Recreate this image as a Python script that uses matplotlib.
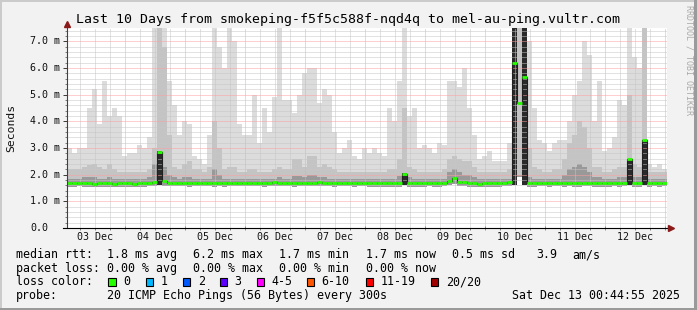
import matplotlib
matplotlib.use('Agg')
import matplotlib.pyplot as plt
import numpy as np
from matplotlib.patches import Rectangle
from matplotlib.transforms import blended_transform_factory

W, H = 697, 310
plt.rcParams['font.family'] = ['DejaVu Sans Mono']

# ---------------- data (values in ms; time in hours since 2025-12-03 00:00) ----------------
t_begin = 0.75      # Dec 3 00:45
t_end = 240.75      # Dec 13 00:45
bin_hours = 2.0

smoke_max = [3.0, 2.8, 3.0, 3.0, 4.5, 5.2, 3.9, 5.5, 4.2, 4.5,
             4.2, 2.7, 2.8, 2.8, 3.1, 3.0, 3.4, 7.5, 7.5, 7.5,
             5.5, 4.6, 3.5, 4.0, 3.9, 2.7, 2.6, 2.4, 3.5, 7.5,
             6.8, 6.0, 7.5, 7.0, 3.9, 3.5, 3.5, 5.0, 3.2, 4.5,
             3.6, 4.9, 7.5, 4.8, 4.8, 4.3, 5.0, 5.8, 6.0, 6.0,
             4.7, 5.2, 5.0, 3.6, 2.8, 3.0, 3.3, 2.7, 2.6, 3.0,
             2.8, 3.0, 2.8, 2.7, 4.5, 4.0, 5.5, 7.5, 4.2, 4.5,
             3.0, 3.1, 3.0, 2.8, 3.2, 3.1, 5.5, 5.5, 5.3, 6.0,
             4.5, 3.5, 2.6, 2.7, 2.9, 2.5, 2.5, 2.5, 3.2, 7.5,
             7.5, 7.5, 7.0, 4.5, 3.3, 3.2, 2.9, 3.2, 3.3, 3.3,
             4.0, 5.0, 5.5, 7.0, 6.5, 4.0, 5.5, 2.9, 3.0, 3.4,
             4.8, 4.6, 7.5, 6.4, 6.0, 7.5, 2.4, 2.3, 2.4, 2.2]

smoke_mid = [2.2, 2.2, 2.2, 2.3, 2.35, 2.4, 2.3, 2.2, 2.4, 2.2,
             2.1, 2.1, 2.1, 2.1, 2.1, 2.1, 2.2, 3.0, 7.5, 6.8,
             3.5, 2.3, 2.2, 2.4, 2.5, 2.2, 2.2, 2.1, 2.3, 4.0,
             3.0, 2.2, 2.3, 2.3, 2.1, 2.1, 2.2, 2.2, 2.1, 2.1,
             2.1, 2.2, 2.3, 2.2, 2.2, 2.6, 2.6, 2.3, 2.7, 2.7,
             2.3, 2.4, 2.3, 2.2, 2.1, 2.1, 2.1, 2.1, 2.1, 2.1,
             2.1, 2.1, 2.1, 2.1, 2.2, 2.2, 2.6, 4.5, 2.3, 2.2,
             2.1, 2.1, 2.1, 2.1, 2.1, 2.2, 2.6, 2.7, 2.6, 2.5,
             2.5, 2.3, 2.1, 2.1, 2.1, 2.1, 2.1, 2.1, 2.2, 7.5,
             7.5, 7.5, 3.0, 2.3, 2.2, 2.1, 2.1, 2.2, 2.2, 2.6,
             3.2, 3.5, 4.0, 3.8, 3.0, 2.3, 2.3, 2.1, 2.1, 2.2,
             2.3, 2.3, 5.0, 2.4, 2.3, 7.5, 2.1, 2.1, 2.1, 2.1]

smoke_dark = [1.85, 1.85, 1.85, 1.9, 1.9, 1.9, 1.85, 1.85, 1.9, 1.85,
              1.85, 1.85, 1.85, 1.85, 1.85, 1.85, 1.9, 2.4, 2.9, 2.3,
              2.0, 1.9, 1.85, 1.9, 1.9, 1.85, 1.85, 1.85, 1.85, 2.2,
              2.0, 1.85, 1.85, 1.85, 1.85, 1.85, 1.85, 1.85, 1.85, 1.85,
              1.85, 1.85, 1.9, 1.85, 1.85, 1.95, 1.95, 1.9, 2.0, 2.0,
              1.9, 1.9, 1.85, 1.85, 1.85, 1.85, 1.85, 1.85, 1.85, 1.85,
              1.85, 1.85, 1.85, 1.85, 1.85, 1.85, 1.95, 2.05, 1.9, 1.85,
              1.85, 1.85, 1.85, 1.85, 1.85, 1.85, 2.1, 2.2, 2.1, 2.0,
              2.0, 1.9, 1.85, 1.85, 1.85, 1.85, 1.85, 1.85, 1.85, 7.5,
              2.0, 7.5, 1.9, 1.85, 1.85, 1.85, 1.85, 1.85, 1.85, 2.0,
              2.2, 2.3, 2.4, 2.3, 2.1, 1.9, 1.9, 1.85, 1.85, 1.85,
              1.9, 1.9, 2.6, 1.9, 1.9, 3.3, 1.85, 1.85, 1.85, 1.85]

smoke_low = [1.55, 1.55, 1.56, 1.55, 1.54, 1.54, 1.55, 1.55, 1.55, 1.54,
             1.55, 1.55, 1.55, 1.54, 1.55, 1.55, 1.56, 1.57, 1.60, 1.58,
             1.56, 1.56, 1.56, 1.56, 1.55, 1.56, 1.56, 1.56, 1.56, 1.54,
             1.56, 1.55, 1.56, 1.56, 1.56, 1.56, 1.56, 1.56, 1.56, 1.55,
             1.56, 1.57, 1.56, 1.56, 1.56, 1.55, 1.56, 1.56, 1.56, 1.56,
             1.57, 1.56, 1.56, 1.55, 1.56, 1.56, 1.56, 1.55, 1.56, 1.56,
             1.55, 1.55, 1.55, 1.55, 1.55, 1.55, 1.55, 1.60, 1.55, 1.55,
             1.55, 1.55, 1.56, 1.55, 1.55, 1.56, 1.60, 1.65, 1.58, 1.59,
             1.55, 1.55, 1.54, 1.55, 1.55, 1.55, 1.55, 1.56, 1.57, 1.60,
             1.90, 1.60, 1.55, 1.55, 1.56, 1.56, 1.55, 1.56, 1.56, 1.55,
             1.56, 1.55, 1.55, 1.56, 1.56, 1.55, 1.55, 1.55, 1.55, 1.56,
             1.55, 1.56, 1.60, 1.55, 1.55, 1.62, 1.55, 1.56, 1.55, 1.56]

median_rtt = [1.68, 1.68, 1.70, 1.68, 1.68, 1.66, 1.68, 1.68, 1.68, 1.66,
              1.68, 1.68, 1.68, 1.66, 1.68, 1.68, 1.70, 1.72, 2.85, 1.78,
              1.70, 1.70, 1.70, 1.70, 1.68, 1.70, 1.70, 1.70, 1.70, 1.68,
              1.70, 1.68, 1.70, 1.70, 1.70, 1.70, 1.70, 1.70, 1.70, 1.68,
              1.70, 1.72, 1.70, 1.70, 1.70, 1.68, 1.70, 1.70, 1.70, 1.70,
              1.72, 1.70, 1.70, 1.68, 1.70, 1.70, 1.70, 1.68, 1.70, 1.70,
              1.68, 1.68, 1.68, 1.68, 1.68, 1.68, 1.68, 2.02, 1.68, 1.68,
              1.68, 1.68, 1.70, 1.68, 1.68, 1.70, 1.78, 1.88, 1.72, 1.74,
              1.68, 1.68, 1.66, 1.68, 1.68, 1.68, 1.68, 1.70, 1.72, 6.20,
              4.70, 5.65, 1.68, 1.68, 1.70, 1.70, 1.68, 1.70, 1.70, 1.68,
              1.70, 1.68, 1.68, 1.70, 1.70, 1.68, 1.68, 1.68, 1.68, 1.70,
              1.68, 1.70, 2.60, 1.68, 1.68, 3.30, 1.68, 1.70, 1.68, 1.70]

day_labels = ['03 Dec', '04 Dec', '05 Dec', '06 Dec', '07 Dec',
              '08 Dec', '09 Dec', '10 Dec', '11 Dec', '12 Dec']
y_tick_values = [0, 1, 2, 3, 4, 5, 6, 7]
y_tick_labels = ['0.0', '1.0 m', '2.0 m', '3.0 m', '4.0 m', '5.0 m', '6.0 m', '7.0 m']

title = 'Last 10 Days from smokeping-f5f5c588f-nqd4q to mel-au-ping.vultr.com'
rtt_row = ['median rtt:', '1.8 ms avg', '6.2 ms max', '1.7 ms min', '1.7 ms now',
           '0.5 ms sd', '3.9', 'am/s']
loss_row = ['packet loss:', '0.00 % avg', '0.00 % max', '0.00 % min', '0.00 % now']
loss_labels = ['0', '1', '2', '3', '4-5', '6-10', '11-19', '20/20']
loss_colors = ['#26ff00', '#00b8ff', '#0059ff', '#5e00ff', '#ff00ff', '#ff5500', '#ff0000', '#a10000']
probe_text = '20 ICMP Echo Pings (56 Bytes) every 300s'
stamp_text = 'Sat Dec 13 00:44:55 2025'

# ---------------- figure ----------------
fig = plt.figure(figsize=(W / 100, H / 100), dpi=100, facecolor='#f2f2f2')

def fx(px):
    return px / W

def fy(py):
    return 1 - py / H

# 3D-ish frame
fig.add_artist(Rectangle((0, 1 - 2 / H), 1, 2 / H, transform=fig.transFigure, color='#cbcbcb', lw=0))
fig.add_artist(Rectangle((0, 0), 2 / W, 1, transform=fig.transFigure, color='#cbcbcb', lw=0))
fig.add_artist(Rectangle((0, 0), 1, 2 / H, transform=fig.transFigure, color='#9a9a9a', lw=0))
fig.add_artist(Rectangle((1 - 3 / W, 0), 3 / W, 1, transform=fig.transFigure, color='#9a9a9a', lw=0))

ax = fig.add_axes([fx(67), 82 / H, 600 / W, 200 / H])
ax.set_facecolor('white')
ax.set_xlim(t_begin, t_end)
ax.set_ylim(0, 7.5)

n = len(smoke_max)
x = t_begin + bin_hours * np.arange(n)
lo = np.array(smoke_low)
mx = np.array(smoke_max)
md = np.array(smoke_mid)
dk = np.array(smoke_dark)
med = np.array(median_rtt)

ax.bar(x, mx - lo, bottom=lo, width=bin_hours, align='edge', color='#dcdcdc',
       linewidth=0, antialiased=False, zorder=1)
ax.bar(x, md - lo, bottom=lo, width=bin_hours, align='edge', color='#c4c4c4',
       linewidth=0, antialiased=False, zorder=1.1)
core = (med > 1.95) & (dk >= med - 0.01)
dark_cols = np.where(core, '#2a2a2a', '#999999')
ax.bar(x, dk - lo, bottom=lo, width=bin_hours, align='edge', color=dark_cols,
       linewidth=0, antialiased=False, zorder=1.2)

# median line: dark step connectors + loss-coloured horizontal segments
ax.step(np.r_[x, x[-1] + bin_hours], np.r_[med, med[-1]], where='post',
        color='#202020', lw=0.8, zorder=3)
ax.hlines(med, x, x + bin_hours, color=loss_colors[0], lw=2.0, zorder=3.1)

# grid
ax.set_yticks(y_tick_values)
ax.set_yticks(np.arange(0, 7.5, 0.2), minor=True)
ax.set_xticks(np.arange(24, 241, 24))
ax.set_xticks(np.arange(6, 241, 6), minor=True)
ax.set_axisbelow(False)
ax.grid(which='minor', color='#c6c6c6', linestyle=(0, (1, 1)), linewidth=0.72)
ax.grid(which='major', color='#ffa0a0', linestyle=(0, (1, 1)), linewidth=0.72)
ax.set_xticklabels([])
ax.set_yticklabels([])
ax.tick_params(axis='y', which='major', direction='out', length=3, width=0.72, color='#404040')
ax.tick_params(axis='y', which='minor', direction='out', length=1.5, width=0.72, color='#808080')
ax.tick_params(axis='x', which='major', direction='inout', length=3, width=0.72, color='#ff6060')
ax.tick_params(axis='x', which='minor', direction='out', length=1.5, width=0.72, color='#808080')
for s in ax.spines.values():
    s.set_visible(False)

# axes lines with arrows
ax.plot([0, 0], [0, 1.025], transform=ax.transAxes, clip_on=False, color='#404040', lw=0.8, zorder=5)
ax.plot([-0.007, 1.006], [0, 0], transform=ax.transAxes, clip_on=False, color='#000000', lw=0.8, zorder=5)
ax.plot([0], [1.022], marker='^', markersize=4.2, color='#8b1a1a', transform=ax.transAxes,
        clip_on=False, zorder=6)
ax.plot([1.007], [0], marker='>', markersize=4.2, color='#8b1a1a', transform=ax.transAxes,
        clip_on=False, zorder=6)

# tick labels
ytr = blended_transform_factory(fig.transFigure, ax.transData)
for v, lab in zip(y_tick_values, y_tick_labels):
    ax.text(fx(30), v, lab, transform=ytr, ha='left', va='center', fontsize=7.2, color='#111111')
xtr = blended_transform_factory(ax.transData, fig.transFigure)
for k, lab in enumerate(day_labels):
    ax.text(12 + 24 * k, fy(237.5), lab, transform=xtr, ha='center', va='center',
            fontsize=7.2, color='#111111', clip_on=False)

# texts
fig.text(0.5, fy(23.5), title, ha='center', va='baseline', fontsize=9.5, color='#000000')
fig.text(fx(11), fy(128), 'Seconds', rotation=90, ha='center', va='center', fontsize=8.2, color='#111111')
fig.text(fx(688.5), fy(60), 'RRDTOOL / TOBI OETIKER', rotation=270, ha='center', va='center',
         fontsize=6.0, color='#aaaaaa')

LFS = 8.4
rtt_x = [16, 107.3, 193.3, 279, 365.7, 451.7, 536.7, 572.3]
for t, px in zip(rtt_row, rtt_x):
    fig.text(fx(px), fy(258), t, ha='left', va='baseline', fontsize=LFS)
loss_x = [16, 107.3, 193.3, 279, 365.7]
for t, px in zip(loss_row, loss_x):
    fig.text(fx(px), fy(271.7), t, ha='left', va='baseline', fontsize=LFS)
fig.text(fx(16), fy(285.4), 'loss color:', ha='left', va='baseline', fontsize=LFS)
sq_x = [108.3, 145.7, 182.7, 219.7, 256.7, 306.7, 365.7, 430.7]
for lab, col, px in zip(loss_labels, loss_colors, sq_x):
    fig.add_artist(Rectangle((fx(px), fy(286)), 7.7 / W, 7.7 / H, transform=fig.transFigure,
                             facecolor=col, edgecolor='#000000', lw=0.8))
    fig.text(fx(px + 15), fy(285.4), lab, ha='left', va='baseline', fontsize=LFS)
fig.text(fx(16), fy(299), 'probe:', ha='left', va='baseline', fontsize=LFS)
fig.text(fx(107.3), fy(299), probe_text, ha='left', va='baseline', fontsize=LFS)
fig.text(fx(680), fy(299), stamp_text, ha='right', va='baseline', fontsize=LFS)

fig.savefig('out.png', dpi=100, facecolor=fig.get_facecolor())
